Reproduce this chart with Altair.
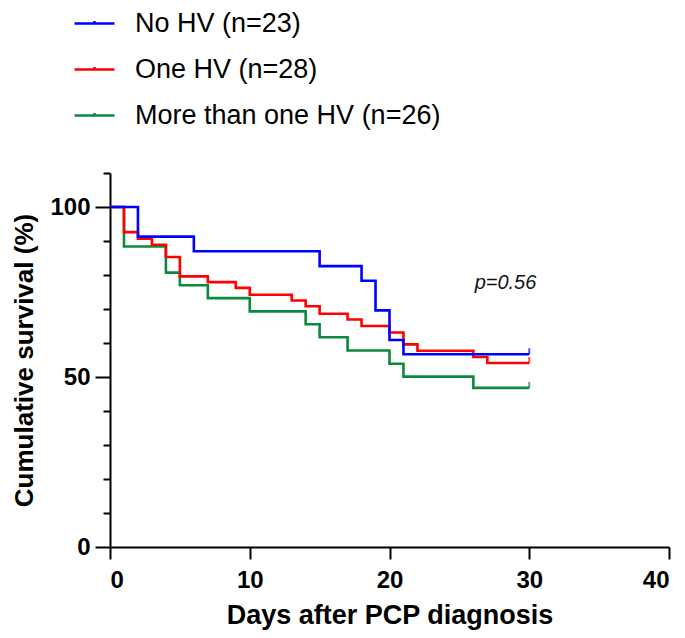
import altair as alt
import pandas as pd

groups = ["No HV (n=23)", "One HV (n=28)", "More than one HV (n=26)"]
colors = ["#0000ff", "#ff0000", "#0a8a3e"]

no_hv_days = [0, 2, 6, 15, 18, 19, 20, 21, 30]
no_hv_surv = [100, 91.3, 87.0, 82.6, 78.3, 69.6, 60.9, 56.7, 56.7]

one_hv_days = [0, 1, 2, 3, 4, 5, 7, 9, 10, 13, 14, 15, 17, 18, 20, 21, 22, 26, 27, 30]
one_hv_surv = [100, 92.6, 90.7, 88.9, 85.3, 79.6, 77.9, 76.2, 74.2, 72.5, 70.8, 68.6,
               66.9, 65.0, 63.1, 59.6, 57.7, 55.9, 54.1, 54.1]

more_hv_days = [0, 1, 4, 5, 7, 10, 14, 15, 17, 20, 21, 26, 30]
more_hv_surv = [100, 88.4, 80.7, 77.0, 73.2, 69.3, 65.5, 61.7, 57.8, 53.9, 50.1, 46.8, 46.8]

censor_days = [30, 30, 30]
censor_surv = [56.7, 54.1, 46.8]

p_text = ["p=0.56"]
p_day = [28.3]
p_surv = [77.6]

x_ticks = [0, 10, 20, 30, 40]
y_major_ticks = [0, 50, 100]
y_minor_ticks = [10, 20, 30, 40, 60, 70, 80, 90, 110]

FONT = "Liberation Sans"

series = [(groups[0], no_hv_days, no_hv_surv),
          (groups[1], one_hv_days, one_hv_surv),
          (groups[2], more_hv_days, more_hv_surv)]
rows = []
for g, ds, ss in series:
    for d, s in zip(ds, ss):
        rows.append({"group": g, "day": d, "surv": s})
df = pd.DataFrame(rows)

cens = pd.DataFrame({"group": groups, "day": censor_days, "surv": censor_surv})
ann = pd.DataFrame({"t": p_text, "day": p_day, "surv": p_surv})
minor = pd.DataFrame({"v": y_minor_ticks})

xscale = alt.Scale(domain=[0, 40], nice=False)
yscale = alt.Scale(domain=[0, 110], nice=False)
cscale = alt.Scale(domain=groups, range=colors)

x_axis = alt.Axis(values=x_ticks, title="Days after PCP diagnosis", grid=False,
                  domainColor="black", domainWidth=2, tickColor="black", tickWidth=2,
                  tickSize=12, labelFont=FONT, labelFontSize=24, labelFontWeight="bold",
                  labelColor="black", labelPadding=9, titleFont=FONT, titleFontSize=27,
                  titleFontWeight="bold", titleColor="black", titlePadding=10)
y_axis = alt.Axis(values=y_major_ticks, title="Cumulative survival (%)", grid=False,
                  labelOverlap=False, orient="left",
                  domainColor="black", domainWidth=2, tickColor="black", tickWidth=2,
                  tickSize=15,
                  labelFont=FONT, labelFontSize=24, labelFontWeight="bold",
                  labelColor="black", labelPadding=5, titleFont=FONT, titleFontSize=26,
                  titleFontWeight="bold", titleColor="black", titlePadding=12)
y_minor_axis = alt.Axis(values=y_minor_ticks, title=None, grid=False, labels=False,
                        domain=False, orient="left", tickColor="black", tickWidth=2,
                        tickSize=7)

legend = alt.Legend(orient="none", legendX=-37, legendY=-171, title=None,
                    symbolType="M-1,0H1M0,0V-0.12", symbolSize=1600, symbolStrokeWidth=2.5,
                    labelFont=FONT, labelFontSize=27, labelColor="black", labelOffset=19,
                    labelLimit=500, rowPadding=11, padding=0)

layers = []
for i, g in enumerate([groups[2], groups[1], groups[0]]):
    layers.append(
        alt.Chart(df).transform_filter(alt.datum.group == g)
        .mark_line(interpolate="step-after", strokeWidth=2.6, clip=False)
        .encode(
            x=alt.X("day:Q", scale=xscale, axis=x_axis),
            y=alt.Y("surv:Q", scale=yscale, axis=y_axis),
            color=alt.Color("group:N", scale=cscale, legend=legend if i == 0 else None),
        )
    )

ticks = alt.Chart(cens).mark_tick(orient="vertical", size=6, thickness=2, yOffset=-3).encode(
    x=alt.X("day:Q", scale=xscale),
    y=alt.Y("surv:Q", scale=yscale, axis=y_axis),
    color=alt.Color("group:N", scale=cscale, legend=None),
)

ptext = alt.Chart(ann).mark_text(font=FONT, fontSize=20, fontStyle="italic", color="#111").encode(
    x=alt.X("day:Q", scale=xscale),
    y=alt.Y("surv:Q", scale=yscale, axis=y_axis),
    text="t:N",
)

main = alt.layer(*layers, ticks, ptext)

minor_layer = alt.Chart(minor).mark_point(opacity=0).encode(
    y=alt.Y("v:Q", scale=yscale, axis=y_minor_axis),
)

chart = alt.layer(main, minor_layer).resolve_axis(y="independent").properties(
    width=559, height=374,
    autosize=alt.AutoSizeParams(type="none"),
    padding={"left": 102, "top": 165, "right": 8, "bottom": 83},
).configure_view(stroke=None)

chart.save("out.html", embed_options={"renderer": "svg", "actions": False})
